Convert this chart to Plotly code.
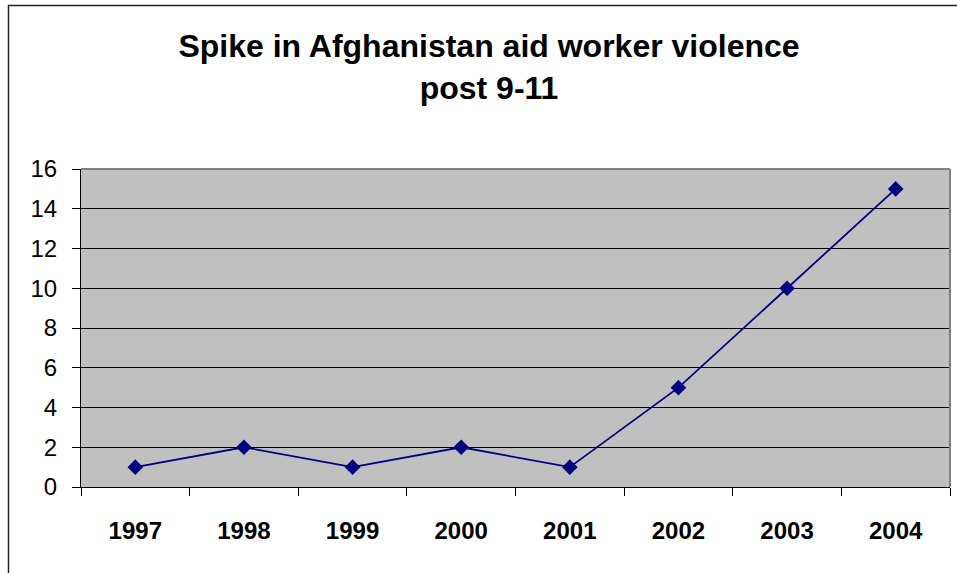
import plotly.graph_objects as go

years = ["1997", "1998", "1999", "2000", "2001", "2002", "2003", "2004"]
incidents = [1, 2, 1, 2, 1, 5, 10, 15]
y_ticks = [0, 2, 4, 6, 8, 10, 12, 14, 16]
title_lines = ["Spike in Afghanistan aid worker violence", "post 9-11"]

W, H = 957, 573
L, R, T, B = 81, 7, 169, 86
pw, ph = W - L - R, H - T - B

def px_x(p):
    return (p - L) / pw

def px_y(p):
    return (H - B - p) / ph

fig = go.Figure()
fig.add_trace(go.Scatter(
    x=years, y=incidents, mode="lines+markers",
    line=dict(color="#000080", width=1.8),
    marker=dict(symbol="diamond", size=12, color="#000080"),
    cliponaxis=False, showlegend=False,
))

fig.update_layout(
    width=W, height=H,
    margin=dict(l=L, r=R, t=T, b=B),
    paper_bgcolor="white",
    plot_bgcolor="#C0C0C0",
    font=dict(family="Liberation Sans, Arial, sans-serif", color="black"),
    title=dict(
        text="<br>".join(title_lines),
        x=489 / W, xanchor="center", xref="container",
        y=1 - 57 / H, yanchor="top", yref="container",
        font=dict(size=32, family="Liberation Sans, Arial, sans-serif", color="black", weight="bold"),
    ),
    xaxis=dict(
        type="category", tickson="boundaries",
        showline=True, linecolor="black", linewidth=1,
        ticks="outside", ticklen=8, tickcolor="black", tickwidth=1,
        showgrid=False, zeroline=False,
        tickfont=dict(size=24, weight="bold"),
        ticklabelstandoff=22,
        range=[-0.5, 7.5],
    ),
    yaxis=dict(
        range=[0, 16], tickmode="array", tickvals=y_ticks,
        showline=True, linecolor="black", linewidth=1,
        ticks="outside", ticklen=8, tickcolor="black", tickwidth=1,
        showgrid=True, gridcolor="black", gridwidth=1,
        zeroline=False,
        tickfont=dict(size=24),
        ticklabelstandoff=10,
    ),
    shapes=[
        # gray top and right border of plot area
        dict(type="line", xref="paper", yref="paper", x0=0, x1=1, y0=1, y1=1,
             line=dict(color="#808080", width=2), layer="above"),
        dict(type="line", xref="paper", yref="paper", x0=1, x1=1, y0=0, y1=1,
             line=dict(color="#808080", width=2), layer="above"),
        # outer chart frame (left and top visible)
        dict(type="rect", xref="paper", yref="paper",
             x0=px_x(8.5), x1=px_x(975), y0=px_y(590), y1=px_y(5.5),
             line=dict(color="#222222", width=1.5), layer="above"),
    ],
)

fig.write_html(
    "out.html",
    config={"displayModeBar": False},
    post_script="document.body.style.margin='0';document.body.style.overflow='hidden';",
)
